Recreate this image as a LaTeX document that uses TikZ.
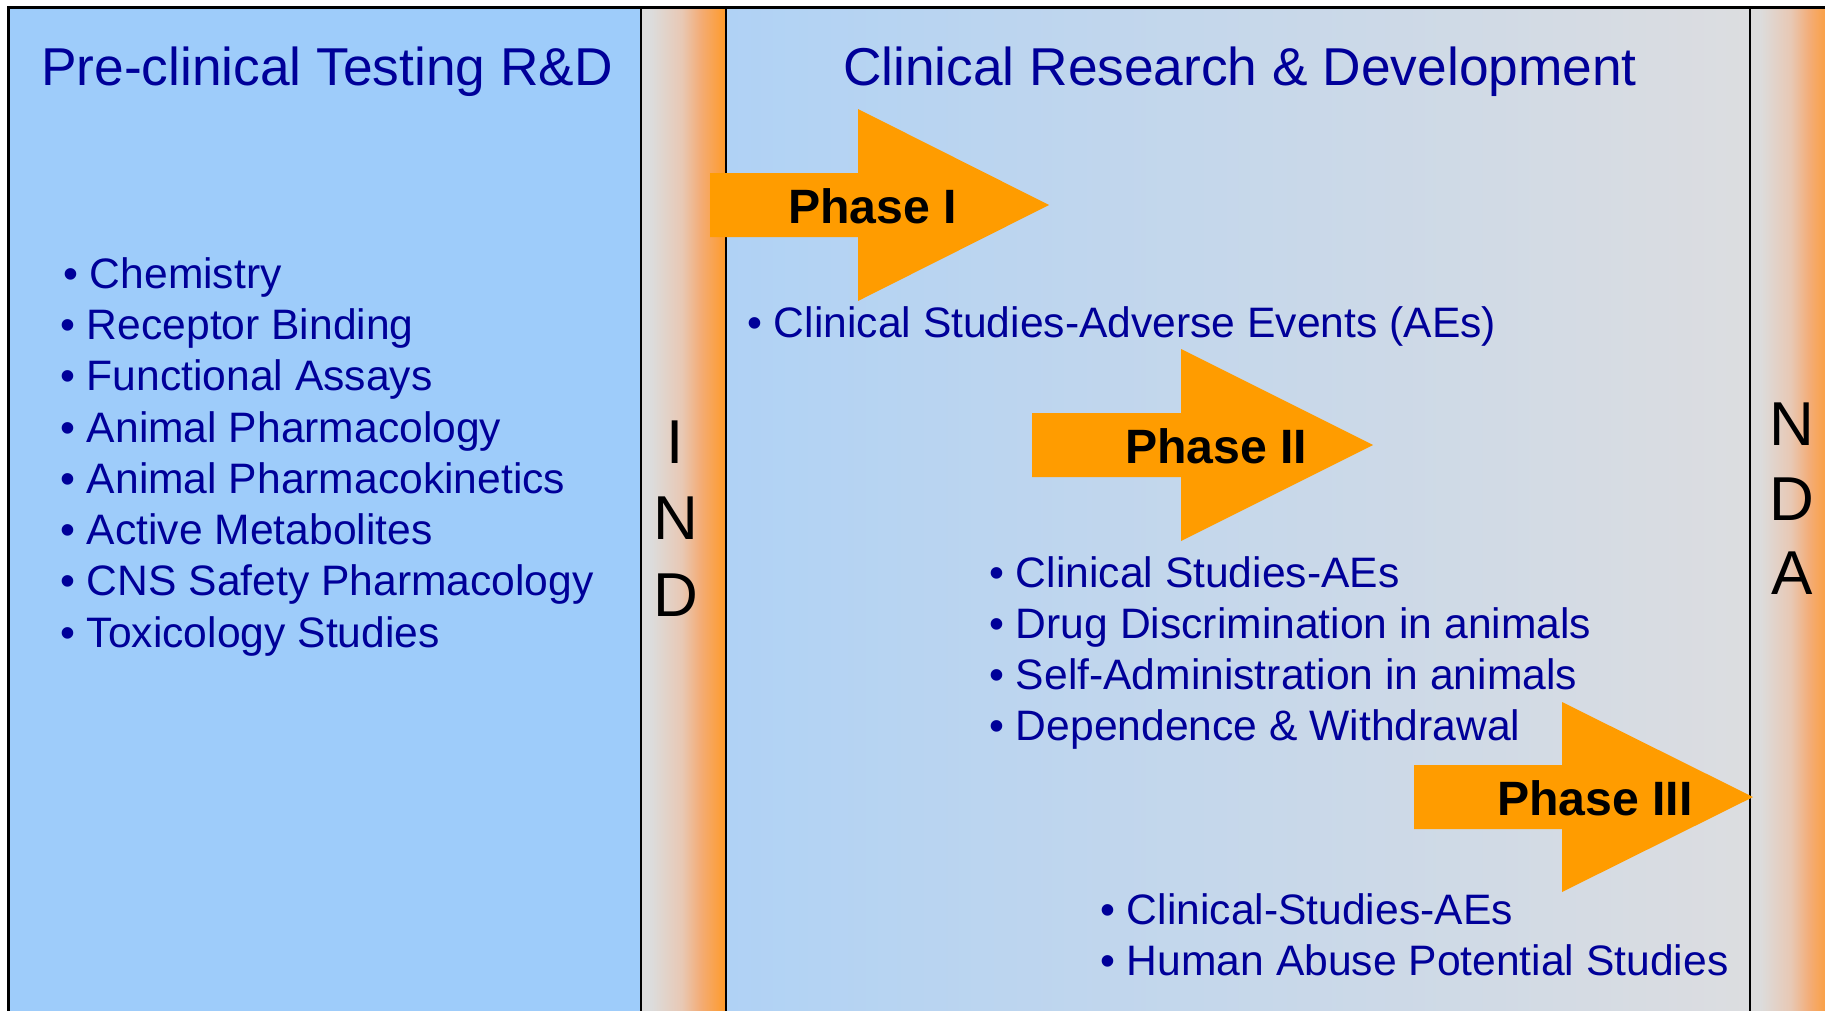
\documentclass[tikz,border=0pt]{standalone}
\usepackage{fontspec}
\setmainfont{Liberation Sans}
\definecolor{leftblue}{RGB}{158,204,250}
\definecolor{mainL}{RGB}{176,210,245}
\definecolor{mainR}{RGB}{220,221,224}
\definecolor{sgray}{RGB}{220,220,220}
\definecolor{smid}{RGB}{232,200,180}
\definecolor{smid2}{RGB}{243,172,118}
\definecolor{sorange}{RGB}{255,154,40}
\definecolor{arrowor}{RGB}{255,156,0}
\definecolor{txtblue}{RGB}{0,0,153}
\pgfdeclarehorizontalshading{stripshade}{100bp}{color(0bp)=(sgray); color(25bp)=(sgray); color(31bp)=(sgray); color(49bp)=(smid); color(60bp)=(smid2); color(75bp)=(sorange); color(100bp)=(sorange)}
\begin{document}
\begin{tikzpicture}[x=1pt,y=-1pt,
  txt/.style={inner sep=0pt, anchor=base west, text=txtblue, font=\fontsize{42.6}{50}\selectfont},
  ttl/.style={inner sep=0pt, anchor=base, text=txtblue, font=\fontsize{53.3}{60}\selectfont},
  letter/.style={inner sep=0pt, anchor=base, text=black, font=\fontsize{62}{70}\selectfont},
  phase/.style={inner sep=0pt, anchor=base west, text=black, font=\bfseries\fontsize{48.2}{55}\selectfont},
  phasearrow/.style={fill=arrowor, draw=none},
  border/.style={line width=3pt, draw=black},
  sep/.style={line width=2.5pt, draw=black}]
\useasboundingbox (0,0) rectangle (1825,1010);
\begin{scope}
\clip (0,0) rectangle (1825,1010);
\fill[white] (0,0) rectangle (1825,1010);
\fill[leftblue] (8,7) rectangle (641,1015);
\shade[left color=mainL, right color=mainR] (726,7) rectangle (1750,1015);
\shade[shading=stripshade] (641,7) rectangle (726,1015);
\shade[shading=stripshade] (1750,7) rectangle (1835,1015);
\coordinate (tl) at (8,7);
\coordinate (tr) at (1830,7);
\coordinate (bl) at (8,1015);
\draw[border] (bl) -- (tl) -- (tr);
\coordinate (s1t) at (641,7);  \coordinate (s1b) at (641,1015);
\coordinate (s2t) at (726,7);  \coordinate (s2b) at (726,1015);
\coordinate (s3t) at (1750,7); \coordinate (s3b) at (1750,1015);
\draw[sep] (s1t) -- (s1b);
\draw[sep] (s2t) -- (s2b);
\draw[sep] (s3t) -- (s3b);
\end{scope}

% titles
\node[ttl] (t1) at (327,85) {Pre-clinical Testing R\&D};
\node[ttl] (t2) at (1240,85) {Clinical Research \& Development};

% IND / NDA
\node[letter] (i1) at (675.5,463) {I};
\node[letter] (i2) at (675.5,539) {N};
\node[letter] (i3) at (675.5,616) {D};
\node[letter] (n1) at (1792,445.5) {N};
\node[letter] (n2) at (1792,520.5) {D};
\node[letter] (n3) at (1792,594.5) {A};

% left bullets
\node[txt] (l1) at (63,288) {• Chemistry};
\node[txt] (l2) at (60,339.5) {• Receptor Binding};
\node[txt] (l3) at (60,390.5) {• Functional Assays};
\node[txt] (l4) at (60,442) {• Animal Pharmacology};
\node[txt] (l5) at (60,493) {• Animal Pharmacokinetics};
\node[txt] (l6) at (60,544.5) {• Active Metabolites};
\node[txt] (l7) at (60,595.5) {• CNS Safety Pharmacology};
\node[txt] (l8) at (60,647) {• Toxicology Studies};

% arrows
\fill[phasearrow] (710,173) -- (858,173) -- (858,109) -- (1049,205) -- (858,301) -- (858,237) -- (710,237) -- cycle;
\fill[phasearrow] (1032,413) -- (1181,413) -- (1181,349) -- (1373,445) -- (1181,541) -- (1181,477) -- (1032,477) -- cycle;
\fill[phasearrow] (1414,765) -- (1562,765) -- (1562,702) -- (1753,797) -- (1562,892) -- (1562,829) -- (1414,829) -- cycle;
\node[phase] (p1) at (788,223) {Phase I};
\node[phase] (p2) at (1125,463) {Phase II};
\node[phase] (p3) at (1497,815) {Phase III};

% right bullets
\node[txt] (r1) at (747,337) {• Clinical Studies-Adverse Events (AEs)};
\node[txt] (r2) at (989,587) {• Clinical Studies-AEs};
\node[txt] (r3) at (989,638) {• Drug Discrimination in animals};
\node[txt] (r4) at (989,689.5) {• Self-Administration in animals};
\node[txt] (r5) at (989,740.5) {• Dependence \& Withdrawal};
\node[txt] (r6) at (1100,924) {• Clinical-Studies-AEs};
\node[txt] (r7) at (1100,975) {• Human Abuse Potential Studies};
\end{tikzpicture}
\end{document}
